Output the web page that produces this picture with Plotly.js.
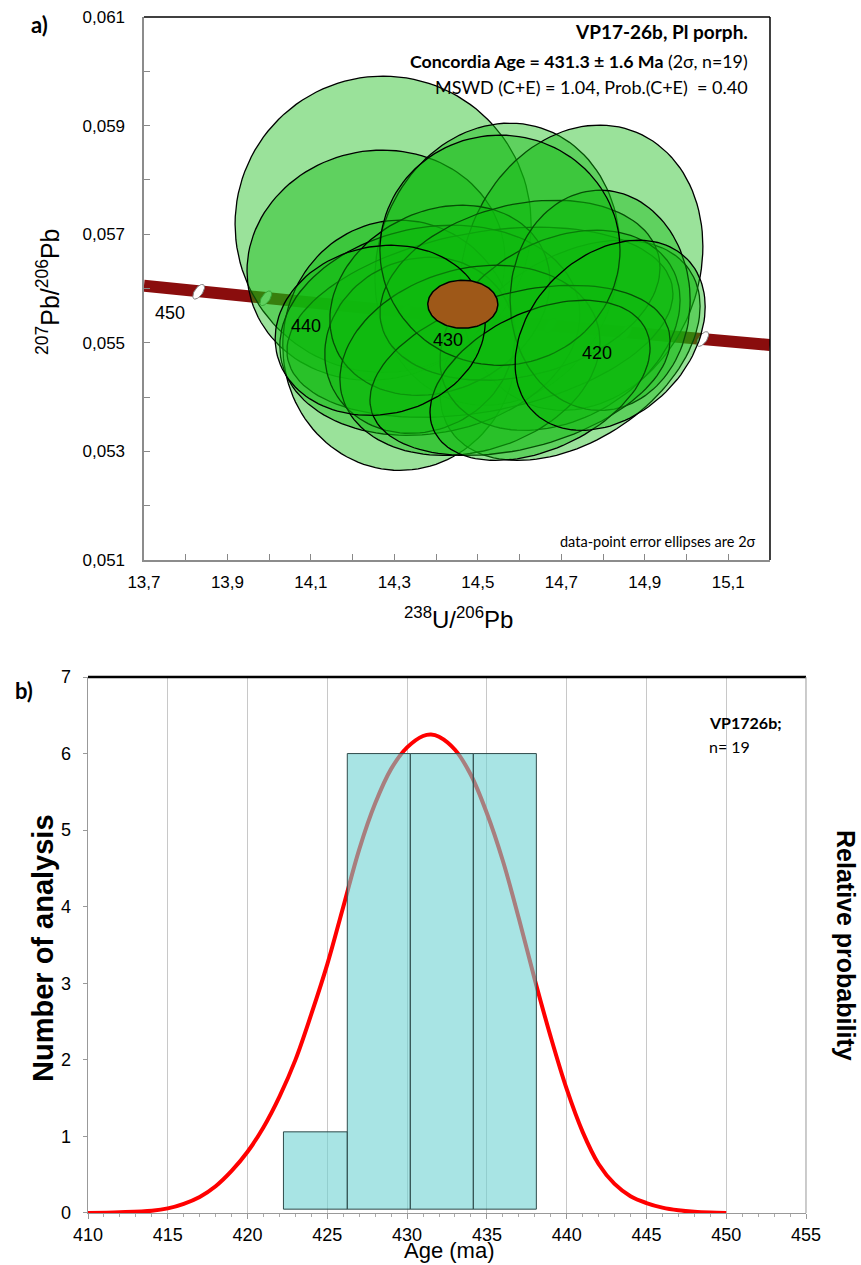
<!DOCTYPE html>
<html><head><meta charset="utf-8">
<script src="https://cdn.plot.ly/plotly-3.0.1.min.js"></script>
<style>body{margin:0;background:#fff}#chart{width:861px;height:1265px}</style>
</head><body><div id="chart"></div>
<script>
// ---------- Panel a: Tera-Wasserburg concordia ----------
// data-point 2-sigma error ellipses (centre, 2s errors, error correlation)
const ellX   = [14.273, 14.256, 14.547, 14.748, 14.313, 14.721, 14.505, 14.385, 14.361, 14.409, 14.601, 14.697, 14.481, 14.793, 14.601, 14.553, 14.649, 14.266, 14.817];
const ellY   = [0.057184, 0.056429, 0.056447, 0.056383, 0.054954, 0.054862, 0.055378, 0.055230, 0.054954, 0.055783, 0.055968, 0.055230, 0.054677, 0.055783, 0.054493, 0.056705, 0.054309, 0.055230, 0.055138];
const ellSX  = [0.3547, 0.3091, 0.2936, 0.2912, 0.2804, 0.3115, 0.4625, 0.3595, 0.2277, 0.2636, 0.3355, 0.2876, 0.3115, 0.2157, 0.3595, 0.2876, 0.2636, 0.2516, 0.2277];
const ellSY  = [0.002728, 0.002120, 0.002599, 0.002627, 0.002304, 0.002028, 0.001751, 0.001935, 0.001622, 0.001751, 0.001659, 0.001843, 0.001751, 0.002028, 0.001567, 0.002120, 0.001475, 0.001567, 0.001751];
const ellRho = [0.0, 0.05, 0.10, 0.15, 0.0, 0.40, 0.30, 0.15, 0.10, 0.20, 0.25, 0.30, 0.20, 0.0, 0.35, 0.0, 0.40, 0.10, 0.30];

// concordia age ellipse (431.3 +/- 1.6 Ma)
const concAgeX = 14.464, concAgeY = 0.05571, concAgeSX = 0.0839, concAgeSY = 0.000442, concAgeRho = 0.0;

// concordia curve points (Ma, 238U/206Pb, 207Pb/206Pb)
const concAge = [454.2, 450, 445, 440, 435, 430, 425, 420, 415, 410.7];
const concX   = [13.700, 13.831, 13.992, 14.157, 14.325, 14.497, 14.674, 14.854, 15.039, 15.200];
const concY   = [0.05605, 0.05594, 0.05582, 0.05569, 0.05557, 0.05544, 0.05532, 0.05519, 0.05507, 0.05496];
const markerAges = [450, 445, 440, 435, 430, 425, 420, 415];
const labelAges  = [450, 440, 430, 420];

// ---------- Panel b: histogram + probability curve ----------
const binEdges = [422.25, 426.25, 430.2, 434.15, 438.1];
const binTop   = [1.06, 6, 6, 6];
const binBase  = 0.05;
const probAge = [410, 412, 414, 415, 416, 417, 418, 419, 420, 421, 422, 423, 424, 425, 426, 427, 428, 429, 430, 431, 431.5, 432, 433, 434, 435, 436, 437, 438, 439, 440, 441, 442, 443, 444, 445, 446, 447, 448, 449, 450];
const probVal = [0, 0.01, 0.03, 0.06, 0.12, 0.21, 0.35, 0.55, 0.80, 1.12, 1.52, 2.0, 2.6, 3.25, 4.0, 4.75, 5.35, 5.8, 6.08, 6.23, 6.25, 6.22, 6.05, 5.72, 5.22, 4.6, 3.85, 3.05, 2.3, 1.62, 1.06, 0.64, 0.38, 0.22, 0.13, 0.07, 0.035, 0.015, 0.005, 0];

// ---------- geometry ----------
const W = 861, H = 1265;
const domAx = [0.1672, 0.8943], domAy = [0.55731, 0.98656];
const domBx = [0.10221, 0.93612], domBy = [0.04111, 0.46482];
const xRangeA = [13.7, 15.2], yRangeA = [0.051, 0.061];
const pxPerX = (domAx[1]-domAx[0])*W/(xRangeA[1]-xRangeA[0]);
const pxPerY = (domAy[1]-domAy[0])*H/(yRangeA[1]-yRangeA[0]);
const PX = p => p/W, PY = p => 1 - p/H;

function ellipse(cx, cy, sx, sy, rho, n) {
  n = n || 120;
  const xs = [], ys = [], s = Math.sqrt(1 - rho*rho);
  for (let i = 0; i <= n; i++) {
    const t = 2*Math.PI*i/n;
    xs.push(cx + sx*Math.cos(t));
    ys.push(cy + sy*(rho*Math.cos(t) + s*Math.sin(t)));
  }
  return {xs, ys};
}

const traces = [];
// concordia band
traces.push({type:'scatter', mode:'lines', x:concX, y:concY, xaxis:'x', yaxis:'y',
  line:{color:'#8a0d0d', width:12}, hoverinfo:'skip', showlegend:false});
// age markers (small white ellipses, drawn in pixel size)
markerAges.forEach(a => {
  const i = concAge.indexOf(a);
  const xs = [], ys = [], th = 55*Math.PI/180, A = 8.5, B = 4;
  for (let k = 0; k <= 40; k++) {
    const t = 2*Math.PI*k/40;
    const dx = A*Math.cos(t)*Math.cos(th) - B*Math.sin(t)*Math.sin(th);
    const dy = A*Math.cos(t)*Math.sin(th) + B*Math.sin(t)*Math.cos(th);
    xs.push(concX[i] + dx/pxPerX); ys.push(concY[i] + dy/pxPerY);
  }
  traces.push({type:'scatter', mode:'lines', x:xs, y:ys, fill:'toself', fillcolor:'#ffffff',
    line:{color:'#808080', width:1}, xaxis:'x', yaxis:'y', hoverinfo:'skip', showlegend:false});
});
// data-point ellipses
for (let i = 0; i < ellX.length; i++) {
  const e = ellipse(ellX[i], ellY[i], ellSX[i], ellSY[i], ellRho[i]);
  traces.push({type:'scatter', mode:'lines', x:e.xs, y:e.ys, fill:'toself',
    fillcolor:'rgba(15,185,15,0.42)', line:{color:'#000', width:1.3},
    xaxis:'x', yaxis:'y', hoverinfo:'skip', showlegend:false});
}
// concordia age ellipse
{
  const e = ellipse(concAgeX, concAgeY, concAgeSX, concAgeSY, concAgeRho);
  traces.push({type:'scatter', mode:'lines', x:e.xs, y:e.ys, fill:'toself',
    fillcolor:'rgb(158,88,24)', line:{color:'#000', width:1.5},
    xaxis:'x', yaxis:'y', hoverinfo:'skip', showlegend:false});
}

// panel b: probability curve (under the bars)
traces.push({type:'scatter', mode:'lines', x:probAge, y:probVal, xaxis:'x2', yaxis:'y2',
  line:{color:'#ff0000', width:4, shape:'spline'}, hoverinfo:'skip', showlegend:false});
// histogram bars on an overlaying axis so they sit above the curve
const binCenter = [], binWidth = [], binH = [];
for (let i = 0; i < binTop.length; i++) {
  binCenter.push((binEdges[i]+binEdges[i+1])/2);
  binWidth.push(binEdges[i+1]-binEdges[i]);
  binH.push(binTop[i]-binBase);
}
traces.push({type:'bar', x:binCenter, y:binH, base:binBase, width:binWidth, xaxis:'x2', yaxis:'y3',
  marker:{color:'rgba(110,210,210,0.6)', line:{color:'#2f4a4a', width:1}}, hoverinfo:'skip', showlegend:false});

const font = 'Liberation Sans, Arial, sans-serif';
const calib = 'Lato, Open Sans, sans-serif';

const annotations = [];
function ann(text, x, y, opts) {
  annotations.push(Object.assign({text, x:PX(x), y:PY(y), xref:'paper', yref:'paper',
    showarrow:false, xanchor:'center', yanchor:'middle', font:{family:font, size:16, color:'#000'}}, opts||{}));
}
// panel a texts
ann('<b>a)</b>', 39, 24, {font:{family:calib, size:22, color:'#000'}});
ann('<b>VP17-26b, Pl porph.</b>', 750, 32, {xanchor:'right', font:{family:calib, size:19, color:'#000'}});
ann('<b>Concordia Age = 431.3 ± 1.6 Ma</b> (2σ, n=19)', 750, 61, {xanchor:'right', font:{family:calib, size:17.8, color:'#000'}});
ann('MSWD (C+E) = 1.04, Prob.(C+E) \u00a0= 0.40', 750, 87, {xanchor:'right', font:{family:calib, size:18, color:'#000'}});
ann('data-point error ellipses are 2σ', 758, 541, {xanchor:'right', font:{family:calib, size:14.5, color:'#000'}});
ann('<sup>207</sup>Pb/<sup>206</sup>Pb', 48, 292, {textangle:-90, font:{family:font, size:25, color:'#000'}});
ann('<sup>238</sup>U/<sup>206</sup>Pb', 459, 618, {font:{family:font, size:24, color:'#000'}});
labelAges.forEach(a => {
  const i = concAge.indexOf(a);
  annotations.push({text:String(a), x:concX[i], y:concY[i], xref:'x', yref:'y', showarrow:false,
    xshift:-29, yshift:-21, font:{family:font, size:18, color:'#000'}});
});
// panel b texts
ann('<b>b)</b>', 24, 690, {font:{family:calib, size:22, color:'#000'}});
ann('<b>VP1726b;</b>', 707, 722, {xanchor:'left', font:{family:calib, size:16, color:'#000'}});
ann('n= 19', 707, 746, {xanchor:'left', font:{family:calib, size:16, color:'#000'}});
ann('<b>Number of analysis</b>', 43, 948, {textangle:-90, font:{family:font, size:29, color:'#000'}});
ann('<b>Relative probability</b>', 846, 945, {textangle:90, font:{family:font, size:25, color:'#000'}});
ann('Age (ma)', 449, 1250, {font:{family:font, size:22, color:'#000'}});

const layout = {
  width:W, height:H, margin:{l:0, r:0, t:0, b:0}, paper_bgcolor:'#fff', plot_bgcolor:'rgba(0,0,0,0)',
  separators:', ', showlegend:false, font:{family:font, color:'#000'},
  xaxis:{domain:domAx, anchor:'y', range:xRangeA, tick0:13.7, dtick:0.2, tickformat:'.1f',
    ticks:'inside', ticklen:6, tickcolor:'#888', showline:true, linecolor:'#8c8c8c', linewidth:1.5,
    showgrid:false, zeroline:false, tickfont:{size:17, family:font}, ticklabelstandoff:6,
    minor:{tick0:13.7, dtick:0.1, ticks:'inside', ticklen:6, tickcolor:'#888'}},
  yaxis:{domain:domAy, anchor:'x', range:yRangeA, tick0:0.051, dtick:0.002, tickformat:'.3f',
    ticks:'inside', ticklen:6, tickcolor:'#888', showline:true, linecolor:'#8c8c8c', linewidth:1.5,
    showgrid:false, zeroline:false, tickfont:{size:17, family:font}, ticklabelstandoff:14,
    minor:{tick0:0.051, dtick:0.001, ticks:'inside', ticklen:6, tickcolor:'#888'}},
  xaxis2:{domain:domBx, anchor:'y2', range:[410,455], tick0:410, dtick:5, ticks:'outside', ticklen:5,
    tickcolor:'#999', showline:true, linecolor:'#999', linewidth:1.5, showgrid:true, gridcolor:'#c8c8c8',
    gridwidth:1, zeroline:false, tickfont:{size:18, family:font},
    minor:{dtick:1, ticks:'outside', ticklen:3, tickcolor:'#aaa', showgrid:false}},
  yaxis2:{domain:domBy, anchor:'x2', range:[0,7], tick0:0, dtick:1, ticks:'outside', ticklen:4,
    tickcolor:'#999', showline:true, linecolor:'#999', linewidth:1.5, showgrid:false, zeroline:false,
    tickfont:{size:18, family:font}, ticklabelstandoff:8},
  yaxis3:{overlaying:'y2', anchor:'x2', range:[0,7], visible:false, showgrid:false, zeroline:false},
  shapes:[
    {type:'line', xref:'x domain', yref:'y domain', x0:0, x1:1, y0:1, y1:1, line:{color:'#000', width:1.5}},
    {type:'line', xref:'x domain', yref:'y domain', x0:1, x1:1, y0:0, y1:1, line:{color:'#000', width:1.5}},
    {type:'line', xref:'x2 domain', yref:'y2 domain', x0:0, x1:1, y0:1, y1:1, line:{color:'#000', width:2.5}},
    {type:'line', xref:'x2 domain', yref:'y2 domain', x0:1, x1:1, y0:0, y1:1, line:{color:'#999', width:1}}
  ],
  annotations
};
Plotly.newPlot('chart', traces, layout, {displayModeBar:false, staticPlot:true});
</script></body></html>
